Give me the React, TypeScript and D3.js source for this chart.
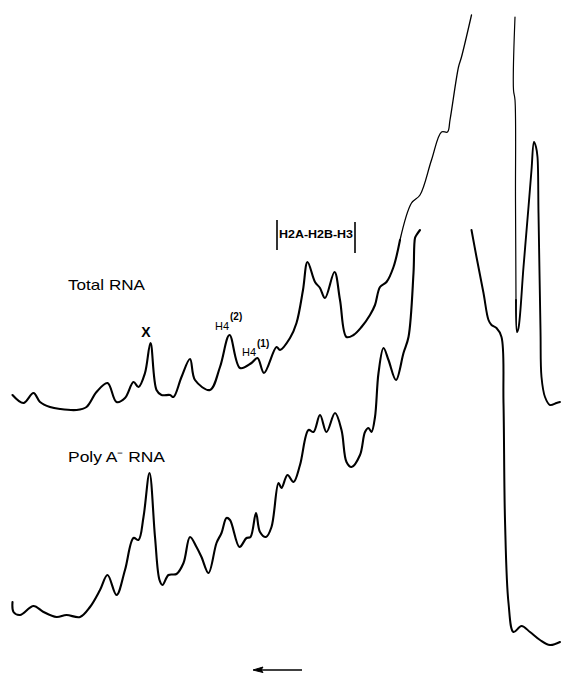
import React from "react";
import * as d3 from "d3";

// Densitometer scans of a gel: distance along the scan (arbitrary units)
// against absorbance. Each trace leaves the recorder range once and comes
// back, so each one is kept as two segments.
const TOTAL_LEFT: [number, number][] = [
  [0.5, 2.55], [2.7, 2.47], [4.7, 2.57], [6.0, 2.48], [8.0, 2.43], [10.0, 2.41],
  [13.3, 2.4], [15.3, 2.43], [17.3, 2.58], [19.5, 2.67], [21.3, 2.48], [23.0, 2.52],
  [24.7, 2.68], [25.7, 2.63], [27.0, 2.77], [28.1, 3.07], [29.3, 2.6], [30.3, 2.55],
  [32.0, 2.55], [32.7, 2.53], [34.3, 2.73], [36.0, 2.91], [37.0, 2.7], [40.0, 2.6],
  [42.0, 2.83], [43.9, 3.15], [46.0, 2.82], [48.3, 2.87], [49.5, 2.92], [50.8, 2.77],
  [53.3, 3.03], [54.0, 3.0], [56.0, 3.12], [57.3, 3.27], [58.6, 3.6], [59.5, 3.88],
  [61.0, 3.68], [62.0, 3.62], [63.0, 3.52], [64.9, 3.78], [66.0, 3.5], [67.3, 3.13],
  [68.7, 3.15], [70.3, 3.23], [72.0, 3.35], [73.0, 3.45], [74.0, 3.63], [75.3, 3.68],
  [76.7, 3.83], [78.0, 4.1],
];
const TOTAL_LEFT_TOP: [number, number][] = [
  [78.0, 4.1], [80.3, 4.47], [82.0, 4.55], [84.3, 4.9], [86.3, 5.18], [87.5, 5.18],
  [88.0, 5.3], [89.7, 5.83], [90.3, 5.93], [92.3, 6.35],
];
const TOTAL_RIGHT: [number, number][] = [
  [101.0, 6.33], [100.7, 5.6], [101.0, 5.5], [101.1, 4.5], [101.2, 3.5], [101.4, 3.18],
  [101.7, 3.22], [102.7, 3.83], [103.7, 4.43], [104.3, 4.8], [104.8, 5.08], [105.2, 5.03],
  [105.5, 4.93], [105.7, 4.37], [106.1, 3.2], [106.3, 2.73], [107.0, 2.53], [108.0, 2.45],
  [109.3, 2.47], [110.0, 2.48],
];
const POLYA_LEFT: [number, number][] = [
  [0.5, 0.48], [0.7, 0.38], [2.0, 0.35], [4.7, 0.44], [6.7, 0.38], [9.3, 0.33],
  [11.3, 0.35], [14.0, 0.33], [16.0, 0.43], [18.0, 0.6], [19.5, 0.75], [21.3, 0.55],
  [23.0, 0.8], [24.7, 1.12], [25.7, 1.1], [26.7, 1.33], [27.9, 1.77], [29.0, 1.13],
  [29.9, 0.7], [30.5, 0.65], [31.7, 0.75], [33.3, 0.76], [34.7, 0.87], [36.0, 1.13],
  [37.3, 1.03], [38.3, 0.93], [39.7, 0.77], [41.3, 1.07], [42.3, 1.17], [43.3, 1.32],
  [44.0, 1.3], [45.9, 1.03], [47.3, 1.12], [48.1, 1.13], [49.2, 1.37], [50.0, 1.18],
  [51.2, 1.13], [52.3, 1.23], [53.7, 1.67], [54.3, 1.62], [55.5, 1.75], [56.7, 1.68],
  [58.0, 1.85], [59.7, 2.2], [60.7, 2.18], [62.0, 2.35], [63.3, 2.18], [65.0, 2.37],
  [66.3, 2.2], [67.3, 1.88], [68.3, 1.83], [70.0, 1.95], [71.0, 2.18], [71.7, 2.22],
  [72.3, 2.18], [73.0, 2.33], [73.7, 2.77], [74.7, 3.02], [75.7, 2.9], [77.2, 2.7],
  [78.7, 2.97], [79.7, 3.13], [80.7, 3.77], [81.0, 4.12], [81.3, 4.15], [82.0, 4.2],
];
const POLYA_RIGHT: [number, number][] = [
  [92.3, 4.2], [93.3, 3.93], [94.7, 3.57], [95.7, 3.3], [96.3, 3.25], [97.3, 3.22],
  [98.3, 3.13], [98.7, 2.47], [99.0, 1.3], [99.7, 0.47], [100.7, 0.18], [102.3, 0.24],
  [104.0, 0.18], [106.0, 0.1], [108.0, 0.05], [110.0, 0.08],
];

const TRACE_NAMES = ["Total RNA", "Poly A\u207B RNA"];
const BAND_GROUP = "H2A-H2B-H3";

const W = 561;
const H = 674;

export default function App() {
  const x = d3.scaleLinear().domain([0, 110]).range([10, 560]);
  const y = d3.scaleLinear().domain([0, 6.5]).range([650, 0]);
  const line = d3
    .line<[number, number]>()
    .x((d) => x(d[0]))
    .y((d) => y(d[1]))
    .curve(d3.curveCatmullRom.alpha(0.5));

  const font = "'Liberation Sans', Arial, Helvetica, sans-serif";

  return (
    <svg
      width={W}
      height={H}
      viewBox={`0 0 ${W} ${H}`}
      style={{ position: "absolute", left: 0, top: 0, background: "#fff" }}
    >
      <g fill="none" stroke="#000" strokeLinejoin="round" strokeLinecap="round">
        <path d={line(TOTAL_LEFT) ?? ""} strokeWidth={2.1} />
        <path d={line(TOTAL_LEFT_TOP) ?? ""} strokeWidth={1.3} />
        <path d={line(TOTAL_RIGHT.slice(0, 5)) ?? ""} strokeWidth={1.2} />
        <path d={line(TOTAL_RIGHT.slice(4)) ?? ""} strokeWidth={1.9} />
        <path d={line(POLYA_LEFT) ?? ""} strokeWidth={2.1} />
        <path d={line(POLYA_RIGHT) ?? ""} strokeWidth={2} />
      </g>

      <g fontFamily={font} fill="#000">
        <text x={x(11.6)} y={y(3.6)} fontSize={15} textLength={77} lengthAdjust="spacingAndGlyphs">
          {TRACE_NAMES[0]}
        </text>
        <text x={x(11.6)} y={y(1.88)} fontSize={15} textLength={97} lengthAdjust="spacingAndGlyphs">
          {TRACE_NAMES[1]}
        </text>

        <text x={x(27.2)} y={y(3.13)} fontSize={14} fontWeight="bold" textAnchor="middle">
          X
        </text>

        <text x={x(41.0)} y={y(3.2)} fontSize={11}>H4</text>
        <text x={x(44.0)} y={y(3.3)} fontSize={10} fontWeight="bold">(2)</text>
        <text x={x(46.4)} y={y(2.94)} fontSize={11}>H4</text>
        <text x={x(49.4)} y={y(3.03)} fontSize={10} fontWeight="bold">(1)</text>

        <text
          x={x(53.8)}
          y={y(4.12)}
          fontSize={11}
          fontWeight="bold"
          textLength={x(68.6) - x(53.8)}
          lengthAdjust="spacingAndGlyphs"
        >
          {BAND_GROUP}
        </text>
      </g>

      <g stroke="#000" strokeWidth={1.6}>
        <line x1={x(53.4)} x2={x(53.4)} y1={y(4.3)} y2={y(4.0)} />
        <line x1={x(69.0)} x2={x(69.0)} y1={y(4.28)} y2={y(3.97)} />
      </g>

      {/* direction of migration */}
      <g>
        <line x1={x(58.4)} x2={x(50.0)} y1={y(-0.2)} y2={y(-0.2)} stroke="#000" strokeWidth={1.6} />
        <path
          d={`M${x(48.6)},${y(-0.2)} L${x(50.6)},${y(-0.2) - 3} L${x(50.2)},${y(-0.2)} L${x(50.6)},${y(-0.2) + 2.5} Z`}
          fill="#000"
          stroke="#000"
          strokeWidth={1}
        />
      </g>
    </svg>
  );
}
